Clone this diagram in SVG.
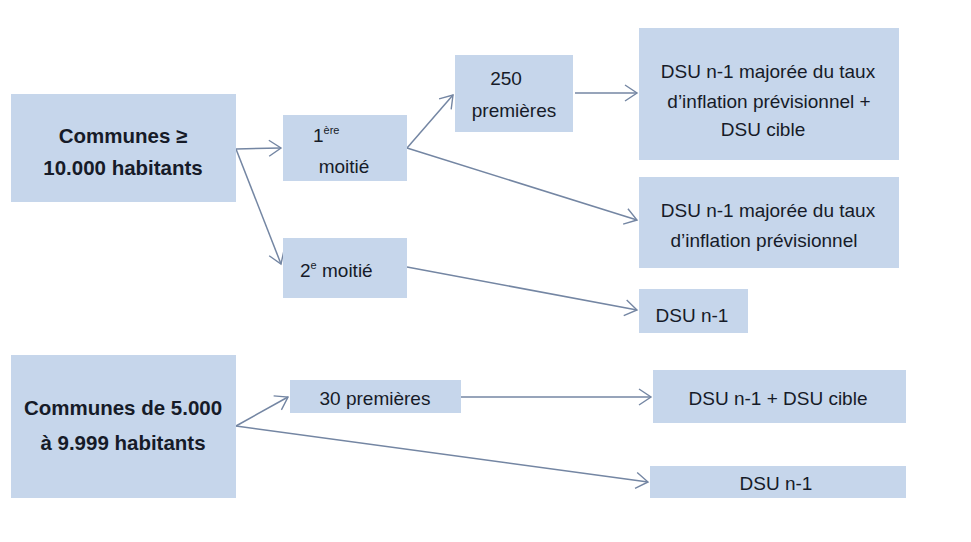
<svg xmlns="http://www.w3.org/2000/svg" width="971" height="542" viewBox="0 0 971 542">
  <defs>
    <marker id="chevron" markerUnits="userSpaceOnUse" markerWidth="16" markerHeight="18" refX="13" refY="9" orient="auto">
      <path d="M1,1 L13,9 L1,17" fill="none" stroke="#7486a3" stroke-width="1.4"/>
    </marker>
  </defs>
  <style>
    .box { fill: #c6d6eb; }
    .t { font-family: "Liberation Sans", Arial, sans-serif; font-size: 19px; fill: #161b28; }
    .b { font-weight: bold; font-size: 20.5px; }
    .sup { font-size: 11px; }
    .link { fill: none; stroke: #7486a3; stroke-width: 1.5; marker-end: url(#chevron); }
  </style>
  <rect width="971" height="542" fill="#ffffff"/>

  <!-- links between the boxes -->
  <g id="connectors">
    <line class="link" x1="236" y1="149" x2="281" y2="148"/>
    <line class="link" x1="236" y1="149" x2="281" y2="264"/>
    <line class="link" x1="407" y1="148" x2="453" y2="95"/>
    <line class="link" x1="407" y1="148" x2="637" y2="220"/>
    <line class="link" x1="575" y1="93" x2="637" y2="93"/>
    <line class="link" x1="407" y1="267" x2="637" y2="310"/>
    <line class="link" x1="236" y1="426" x2="288" y2="397"/>
    <line class="link" x1="236" y1="426" x2="648" y2="482"/>
    <line class="link" x1="461" y1="397" x2="651" y2="397"/>
  </g>

  <g id="communes-10000">
    <rect class="box" x="11" y="94" width="225" height="108"/>
    <text class="t b" x="123" y="143" text-anchor="middle">Communes ≥</text>
    <text class="t b" x="123" y="175" text-anchor="middle">10.000 habitants</text>
  </g>

  <g id="premiere-moitie">
    <rect class="box" x="283" y="115" width="124" height="66"/>
    <text class="t" x="313" y="142">1<tspan class="sup" dy="-8">ère</tspan></text>
    <text class="t" x="344" y="173" text-anchor="middle">moitié</text>
  </g>

  <g id="deuxieme-moitie">
    <rect class="box" x="283" y="238" width="124" height="60"/>
    <text class="t" x="300" y="277">2<tspan class="sup" dy="-8">e</tspan><tspan dy="8"> moitié</tspan></text>
  </g>

  <g id="premieres-250">
    <rect class="box" x="455" y="55" width="118" height="77"/>
    <text class="t" x="506" y="85" text-anchor="middle">250</text>
    <text class="t" x="514" y="117" text-anchor="middle">premières</text>
  </g>

  <g id="dsu-inflation-cible">
    <rect class="box" x="639" y="28" width="260" height="132"/>
    <text class="t" x="768" y="78" text-anchor="middle">DSU n-1 majorée du taux</text>
    <text class="t" x="769" y="108" text-anchor="middle">d’inflation prévisionnel +</text>
    <text class="t" x="763" y="136" text-anchor="middle">DSU cible</text>
  </g>

  <g id="dsu-inflation">
    <rect class="box" x="639" y="177" width="260" height="91"/>
    <text class="t" x="768" y="217" text-anchor="middle">DSU n-1 majorée du taux</text>
    <text class="t" x="764" y="247" text-anchor="middle">d’inflation prévisionnel</text>
  </g>

  <g id="dsu-n1-a">
    <rect class="box" x="639" y="289" width="109" height="44"/>
    <text class="t" x="692" y="322" text-anchor="middle">DSU n-1</text>
  </g>

  <g id="communes-5000">
    <rect class="box" x="11" y="355" width="225" height="143"/>
    <text class="t b" x="123" y="415" text-anchor="middle">Communes de 5.000</text>
    <text class="t b" x="123" y="450" text-anchor="middle">à 9.999 habitants</text>
  </g>

  <g id="premieres-30">
    <rect class="box" x="290" y="380" width="171" height="33"/>
    <text class="t" x="375" y="405" text-anchor="middle">30 premières</text>
  </g>

  <g id="dsu-cible">
    <rect class="box" x="653" y="370" width="253" height="53"/>
    <text class="t" x="778" y="405" text-anchor="middle">DSU n-1 + DSU cible</text>
  </g>

  <g id="dsu-n1-b">
    <rect class="box" x="650" y="466" width="256" height="32"/>
    <text class="t" x="776" y="490" text-anchor="middle">DSU n-1</text>
  </g>
</svg>
